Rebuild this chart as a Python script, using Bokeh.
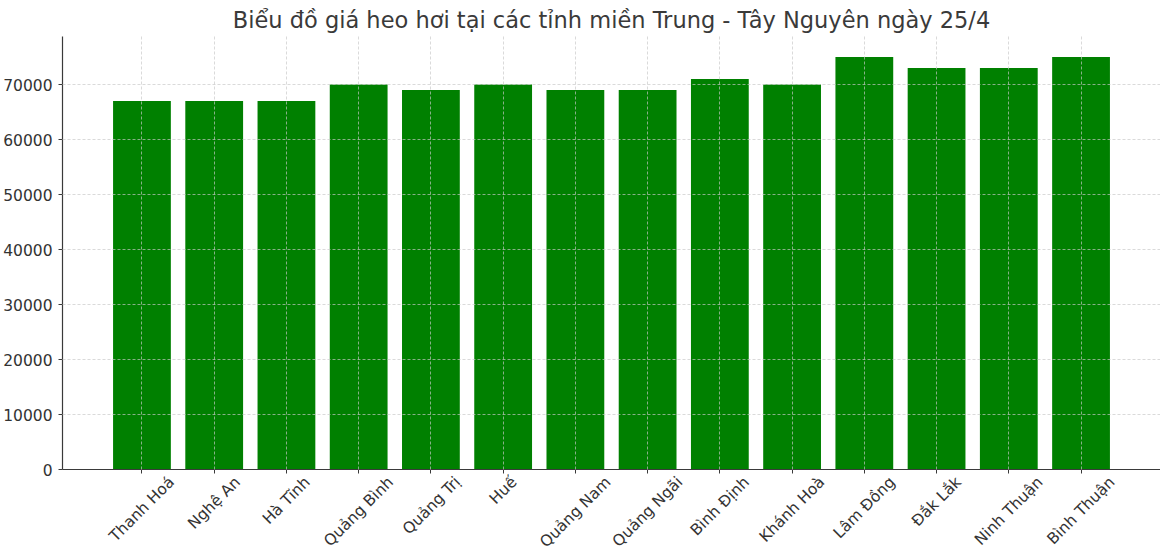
import math
import unicodedata
from bokeh.plotting import figure
from bokeh.models import Range1d, FixedTicker
from bokeh.embed import file_html
from bokeh.resources import INLINE

provinces = ["Thanh Hoá", "Nghệ An", "Hà Tĩnh", "Quảng Bình", "Quảng Trị", "Huế",
             "Quảng Nam", "Quảng Ngãi", "Bình Định", "Khánh Hoà", "Lâm Đồng",
             "Đắk Lắk", "Ninh Thuận", "Bình Thuận"]
prices = [67000, 67000, 67000, 70000, 69000, 70000, 69000, 69000, 71000, 70000,
          75000, 73000, 73000, 75000]
y_ticks = [0, 10000, 20000, 30000, 40000, 50000, 60000, 70000]
title_text = "Biểu đồ giá heo hơi tại các tỉnh miền Trung - Tây Nguyên ngày 25/4"

xs = list(range(len(provinces)))
FONT = "DejaVu Sans"
LABEL_PX = 15.5
FRAME_W = 1098
FRAME_H = 433
X0, X1 = -1.1, len(provinces) - 1 + 1.1
Y_MAX = max(prices) * 1.05

# approximate DejaVu Sans advance widths (em), used to centre the rotated labels on their ticks
_W = {" ": 0.318, "A": 0.684, "B": 0.686, "D": 0.770, "Đ": 0.774, "H": 0.752, "K": 0.656,
      "L": 0.557, "N": 0.748, "Q": 0.787, "T": 0.611, "a": 0.613, "c": 0.550, "e": 0.615,
      "g": 0.635, "h": 0.634, "i": 0.278, "k": 0.579, "m": 0.974, "n": 0.634, "o": 0.612,
      "r": 0.411, "u": 0.634, "y": 0.592}


def text_len(s):
    total = 0.0
    for ch in s:
        if ch in _W:
            total += _W[ch]
            continue
        base = "".join(c for c in unicodedata.normalize("NFD", ch) if not unicodedata.combining(c))
        total += _W.get(base, 0.6)
    return total * LABEL_PX


px_per_unit = FRAME_W / (X1 - X0)
# Bokeh anchors a rotated label by its end; shift the anchor so the label's centre sits on the tick
label_pos = [x + 0.3536 * text_len(n) / px_per_unit for x, n in zip(xs, provinces)]

p = figure(frame_width=FRAME_W, frame_height=FRAME_H,
           min_border_left=62, min_border_right=0, min_border_top=35, min_border_bottom=86,
           x_range=Range1d(X0, X1), y_range=Range1d(0, Y_MAX),
           output_backend="svg", toolbar_location=None, title=title_text)

p.vbar(x=xs, top=prices, width=0.8, bottom=0, fill_color="#008000", line_color=None)

p.title.align = "center"
p.title.text_font = FONT
p.title.text_font_size = "22.5px"
p.title.text_font_style = "normal"
p.title.text_color = "#3a3a3a"
p.title.standoff = 8

p.outline_line_color = None
p.background_fill_color = "white"

p.xaxis.ticker = FixedTicker(ticks=label_pos, minor_ticks=xs)
p.xaxis.major_label_overrides = {pos: n for pos, n in zip(label_pos, provinces)}
p.xaxis.major_label_orientation = math.pi / 4
p.yaxis.ticker = FixedTicker(ticks=y_ticks)

for ax in (p.xaxis, p.yaxis):
    ax.axis_line_color = "#3a3a3a"
    ax.axis_line_width = 1.2
    ax.major_tick_line_color = "#3a3a3a"
    ax.major_tick_out = 4
    ax.major_tick_in = 0
    ax.major_label_text_font = FONT
    ax.major_label_text_font_size = f"{LABEL_PX}px"
    ax.major_label_text_color = "#333333"
p.yaxis.minor_tick_line_color = None
p.yaxis.major_label_standoff = 6
# x: ticks at bar centres drawn as minor ticks, label anchors carry no tick mark
p.xaxis.major_tick_line_color = None
p.xaxis.minor_tick_line_color = "#3a3a3a"
p.xaxis.minor_tick_out = 4
p.xaxis.minor_tick_in = 0
p.xaxis.major_label_standoff = 6

p.xgrid.ticker = FixedTicker(ticks=xs)
p.ygrid.ticker = FixedTicker(ticks=y_ticks)
for g in (p.xgrid, p.ygrid):
    g.grid_line_color = "#c8c8c8"
    g.grid_line_alpha = 0.85
    g.grid_line_dash = "3 2"
    g.grid_line_width = 0.8
    g.level = "annotation"

open("out.html", "w").write(file_html(p, INLINE))
